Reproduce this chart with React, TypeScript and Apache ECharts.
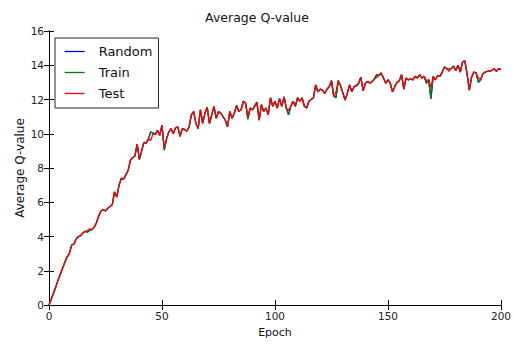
import React, { useEffect, useRef } from "react";
import * as echarts from "echarts";

const epochs: number[] = Array.from({ length: 201 }, (_, i) => i);

const testValues: number[] = [
  0, 0.35, 0.7, 1.05, 1.45, 1.8, 2.15, 2.5, 2.8, 3.0,
  3.5, 3.55, 3.85, 4.0, 4.05, 4.2, 4.3, 4.35, 4.45, 4.4,
  4.55, 4.8, 5.2, 5.5, 5.55, 5.5, 5.65, 5.75, 5.85, 6.6,
  6.3, 7.0, 7.4, 7.35, 7.6, 7.85, 8.45, 8.6, 8.7, 9.4,
  8.5, 9.0, 9.5, 9.45, 9.7, 9.6, 10.0, 9.95, 10.2, 9.9,
  10.5, 9.2, 9.7, 10.1, 10.3, 10.0, 10.35, 10.4, 9.85, 10.3,
  10.25, 10.15, 10.4, 11.1, 11.3, 10.6, 10.3, 11.4, 10.6, 11.2,
  11.55, 10.6, 11.1, 11.6, 10.9, 11.3, 11.2, 11.0, 10.8, 10.4,
  11.3, 10.9, 11.2, 11.65, 11.3, 11.4, 11.9, 11.8, 11.0, 11.5,
  11.4, 11.6, 11.85, 10.8, 11.7, 11.3, 11.5, 11.1, 12.1, 11.6,
  11.9, 11.5, 12.05, 11.6, 12.15, 11.5, 11.35, 11.6, 11.9, 11.6,
  12.1, 11.9, 12.1, 11.6, 11.5, 11.9, 12.0, 12.1, 12.85, 12.45,
  12.6, 12.55, 12.35, 12.6, 12.75, 13.1, 12.2, 12.45, 13.1, 12.8,
  12.4, 11.97, 12.35, 12.85, 12.45, 12.75, 12.8, 12.95, 13.3, 12.5,
  12.95, 13.05, 12.95, 13.05, 13.2, 13.3, 13.4, 13.55, 13.25, 12.95,
  13.15, 12.95, 12.45, 12.75, 13.0, 13.1, 13.45, 12.6, 13.25, 13.15,
  13.2, 13.15, 13.35, 13.25, 13.45, 13.25, 13.35, 13.1, 13.15, 12.7,
  13.35, 13.15, 13.4, 13.35, 13.6, 13.9, 13.8, 13.65, 13.8, 13.95,
  13.7, 14.0, 13.6, 14.2, 14.25, 13.5, 12.55, 13.3, 13.6, 13.55,
  13.25, 13.15, 13.5, 13.6, 13.65, 13.65, 13.7, 13.8, 13.65, 13.8,
  13.75,
];

const trainValues: number[] = [
  0, 0.35, 0.7, 1.05, 1.45, 1.8, 2.15, 2.5, 2.8, 3.0,
  3.5, 3.55, 3.85, 4.0, 4.05, 4.2, 4.3, 4.25, 4.35, 4.4,
  4.55, 4.8, 5.2, 5.5, 5.55, 5.5, 5.65, 5.75, 5.85, 6.6,
  6.3, 7.0, 7.4, 7.35, 7.6, 7.85, 8.45, 8.6, 8.7, 9.4,
  8.5, 9.0, 9.5, 9.45, 9.7, 10.1, 10.05, 9.95, 10.2, 9.9,
  10.5, 9.05, 9.7, 10.1, 10.3, 10.0, 10.35, 10.4, 9.85, 10.3,
  10.25, 10.15, 10.4, 11.1, 11.3, 10.6, 10.3, 11.4, 10.6, 11.2,
  11.55, 10.6, 11.1, 11.6, 10.9, 11.3, 11.2, 11.0, 10.8, 10.4,
  11.3, 10.9, 11.2, 11.65, 11.3, 11.4, 11.9, 11.8, 10.85, 11.5,
  11.4, 11.6, 11.85, 10.8, 11.7, 11.3, 11.5, 11.1, 12.1, 11.6,
  11.9, 11.5, 12.05, 11.6, 12.15, 11.5, 11.1, 11.6, 11.9, 11.6,
  12.1, 11.9, 12.1, 11.6, 11.5, 11.9, 12.0, 12.1, 12.85, 12.45,
  12.6, 12.55, 12.35, 12.6, 12.75, 13.1, 12.2, 12.1, 13.1, 12.8,
  12.4, 11.97, 12.35, 12.85, 12.45, 12.75, 12.8, 12.95, 13.3, 12.5,
  12.95, 13.05, 12.95, 13.05, 13.2, 13.45, 13.4, 13.55, 13.25, 12.95,
  13.15, 12.95, 12.45, 12.75, 13.0, 13.1, 13.45, 12.6, 13.25, 13.15,
  13.2, 13.15, 13.35, 13.25, 13.45, 13.25, 13.35, 12.95, 13.15, 12.05,
  13.35, 13.15, 13.4, 13.35, 13.6, 13.9, 13.8, 13.8, 13.8, 13.95,
  13.7, 14.0, 13.6, 14.2, 14.25, 13.5, 12.55, 13.3, 13.6, 13.55,
  13.0, 13.15, 13.5, 13.6, 13.65, 13.65, 13.7, 13.8, 13.65, 13.8,
  13.75,
];

const randomValues: number[] = trainValues;

const seriesNames = ["Random", "Train", "Test"];
const seriesColors = ["#0000ff", "#008000", "#ff0000"];
const xTicks = { min: 0, max: 200, interval: 50 };
const yTicks = { min: 0, max: 16, interval: 2 };

const FONT = "DejaVu Sans";

export default function App() {
  const ref = useRef<HTMLDivElement>(null);
  useEffect(() => {
    if (!ref.current) return;
    const chart = echarts.init(ref.current, undefined, { renderer: "svg" });
    const all = [randomValues, trainValues, testValues];
    const axisLine = { show: true, lineStyle: { color: "#000", width: 1 } };
    const tick = { show: true, inside: true, length: 5, lineStyle: { color: "#000" } };
    chart.setOption({
      animation: false,
      backgroundColor: "#fff",
      title: {
        text: "Average Q-value",
        left: "center",
        top: 6,
        textStyle: { fontFamily: FONT, fontSize: 12.5, fontWeight: "normal", color: "#111" },
      },
      legend: {
        orient: "vertical",
        left: 55,
        top: 38,
        data: seriesNames,
        backgroundColor: "#fff",
        borderColor: "#222",
        borderWidth: 1,
        borderRadius: 0,
        padding: [7, 6, 8, 9],
        itemWidth: 20,
        itemHeight: 14,
        itemGap: 8,
        itemStyle: { opacity: 0 },
        lineStyle: { width: 1.3 },
        textStyle: { fontFamily: FONT, fontSize: 13, color: "#111", padding: [0, 0, 0, 9] },
      },
      grid: { left: 49, right: 12, top: 31, bottom: 40, containLabel: false },
      xAxis: [
        {
          type: "value",
          min: xTicks.min,
          max: xTicks.max,
          interval: xTicks.interval,
          name: "Epoch",
          nameLocation: "middle",
          nameGap: 22,
          nameMoveOverlap: false,
          nameTextStyle: { fontFamily: FONT, fontSize: 11, color: "#111" },
          axisLine,
          axisTick: tick,
          axisLabel: { fontFamily: FONT, fontSize: 10.5, color: "#222", margin: 5 },
          splitLine: { show: false },
        },
        {
          type: "value",
          position: "top",
          min: xTicks.min,
          max: xTicks.max,
          interval: xTicks.interval,
          axisLine,
          axisTick: tick,
          axisLabel: { show: false },
          splitLine: { show: false },
        },
      ],
      yAxis: [
        {
          type: "value",
          min: yTicks.min,
          max: yTicks.max,
          interval: yTicks.interval,
          name: "Average Q-value",
          nameLocation: "middle",
          nameGap: 23,
          nameMoveOverlap: false,
          nameTextStyle: { fontFamily: FONT, fontSize: 12, color: "#111" },
          axisLine,
          axisTick: tick,
          axisLabel: { fontFamily: FONT, fontSize: 10.5, color: "#222", margin: 5 },
          splitLine: { show: false },
        },
        {
          type: "value",
          position: "right",
          min: yTicks.min,
          max: yTicks.max,
          interval: yTicks.interval,
          axisLine,
          axisTick: tick,
          axisLabel: { show: false },
          splitLine: { show: false },
        },
      ],
      series: seriesNames.map((name, i) => ({
        name,
        type: "line",
        xAxisIndex: 0,
        yAxisIndex: 0,
        showSymbol: false,
        symbol: "none",
        color: seriesColors[i],
        lineStyle: { color: seriesColors[i], width: 1.3 },
        data: epochs.map((e, j) => [e, all[i][j]]),
        z: 2 + i,
      })),
    });
    return () => chart.dispose();
  }, []);
  return (
    <div
      ref={ref}
      style={{ position: "fixed", left: 0, top: 0, width: 514, height: 345 }}
    />
  );
}
